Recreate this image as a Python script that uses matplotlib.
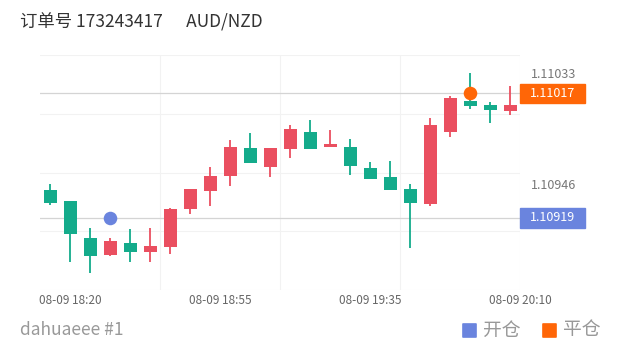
import matplotlib

matplotlib.use("Agg")

import matplotlib.pyplot as plt
from matplotlib.patches import Rectangle
from matplotlib.transforms import blended_transform_factory

plt.rcParams["font.family"] = ["Noto Sans CJK SC", "DejaVu Sans"]

# 5-minute candles, AUD/NZD
opens = [1.10941, 1.10932, 1.10903, 1.10890, 1.10899, 1.10892, 1.10896, 1.10926,
         1.10940, 1.10952, 1.10974, 1.10959, 1.10973, 1.10987, 1.10975, 1.10975,
         1.10958, 1.10951, 1.10942, 1.10930, 1.10987, 1.11011, 1.11008, 1.11003]
highs = [1.10946, 1.10932, 1.10911, 1.10903, 1.10910, 1.10911, 1.10927, 1.10942,
         1.10959, 1.10980, 1.10986, 1.10974, 1.10992, 1.10996, 1.10988, 1.10981,
         1.10963, 1.10964, 1.10946, 1.10998, 1.11015, 1.11033, 1.11010, 1.11023]
lows = [1.10929, 1.10884, 1.10876, 1.10889, 1.10884, 1.10884, 1.10891, 1.10922,
        1.10928, 1.10944, 1.10962, 1.10951, 1.10966, 1.10973, 1.10975, 1.10953,
        1.10950, 1.10941, 1.10895, 1.10928, 1.10983, 1.11005, 1.10994, 1.11000]
closes = [1.10931, 1.10906, 1.10889, 1.10901, 1.10892, 1.10897, 1.10926, 1.10942,
          1.10952, 1.10975, 1.10962, 1.10974, 1.10989, 1.10973, 1.10977, 1.10960,
          1.10950, 1.10941, 1.10931, 1.10992, 1.11013, 1.11007, 1.11004, 1.11008]

time_labels = ["08-09 18:20", "08-09 18:55", "08-09 19:35", "08-09 20:10"]
price_ticks = [1.11033, 1.10946]

open_index, open_price = 3, 1.10919
close_index, close_price = 21, 1.11017

order_no = "173243417"
symbol = "AUD/NZD"
account = "dahuaeee #1"

UP = "#ea4f60"
DOWN = "#14ab8b"
OPEN_C = "#6a84de"
CLOSE_C = "#ff6607"

fig = plt.figure(figsize=(6.2, 3.5), dpi=100)
ax = fig.add_axes([40 / 620, 60 / 350, 480 / 620, 235 / 350])
ax.set_xlim(-0.5, len(opens) - 0.5)
ax.set_ylim(1.108623, 1.110472)
for s in ax.spines.values():
    s.set_visible(False)

# background grid at quarters
for f in [0, 0.25, 0.5, 0.75, 1]:
    ax.plot([0, 1], [f, f], transform=ax.transAxes, color="#f2f2f2", lw=0.8, zorder=0)
for f in [0.25, 0.5, 0.75, 1]:
    ax.plot([f, f], [0, 1], transform=ax.transAxes, color="#f2f2f2", lw=0.8, zorder=0)

# open / close price lines
ax.axhline(open_price, color="#d4d4d4", lw=0.9, zorder=1)
ax.axhline(close_price, color="#d4d4d4", lw=0.9, zorder=1)

for i, (o, h, l, c) in enumerate(zip(opens, highs, lows, closes)):
    color = UP if c >= o else DOWN
    ax.vlines(i, l, h, color=color, lw=1.3, zorder=2)
    ax.bar(i, max(abs(c - o), 0.000003), bottom=min(o, c), width=0.65, color=color, zorder=3)

ax.scatter([open_index], [open_price], s=95, color=OPEN_C, zorder=4, linewidths=0)
ax.scatter([close_index], [close_price], s=95, color=CLOSE_C, zorder=4, linewidths=0)

ax.set_xticks([1, 8.5, 16, 23.5])
ax.set_xticklabels(time_labels)
ax.tick_params(axis="x", length=0, pad=3, labelsize=8.5, labelcolor="#666666")

ax.yaxis.tick_right()
ax.set_yticks(price_ticks)
ax.set_yticklabels([f"{p:.5f}" for p in price_ticks])
ax.tick_params(axis="y", length=0, pad=8, labelsize=9, labelcolor="#777777")

# price tags on the right
tr = blended_transform_factory(fig.transFigure, ax.transData)
half = 0.0000755
for price, color in [(close_price, CLOSE_C), (open_price, OPEN_C)]:
    ax.add_patch(Rectangle((520 / 620, price - half), 65 / 620, 2 * half, transform=tr,
                           color=color, clip_on=False, zorder=5))
    ax.text(552.5 / 620, price, f"{price:.5f}", transform=tr, ha="center", va="center",
            color="white", fontsize=9, zorder=6, clip_on=False)

fig.text(20 / 620, 1 - 22 / 350, f"订单号 {order_no}      {symbol}", fontsize=12.5,
         color="#333333", va="center", ha="left")
fig.text(20 / 620, 1 - 330 / 350, account, fontsize=12.5, color="#999999", va="center", ha="left")

# legend
for x0, color, label in [(463, OPEN_C, "开仓"), (543, CLOSE_C, "平仓")]:
    fig.add_artist(Rectangle((x0 / 620, 1 - 337 / 350), 13 / 620, 13 / 350,
                             transform=fig.transFigure, facecolor=color, edgecolor=color,
                             lw=1.2, joinstyle="round"))
    fig.text((x0 + 20) / 620, 1 - 330 / 350, label, fontsize=13.5, color="#999999",
             va="center", ha="left")

fig.savefig("out.png", dpi=100)
